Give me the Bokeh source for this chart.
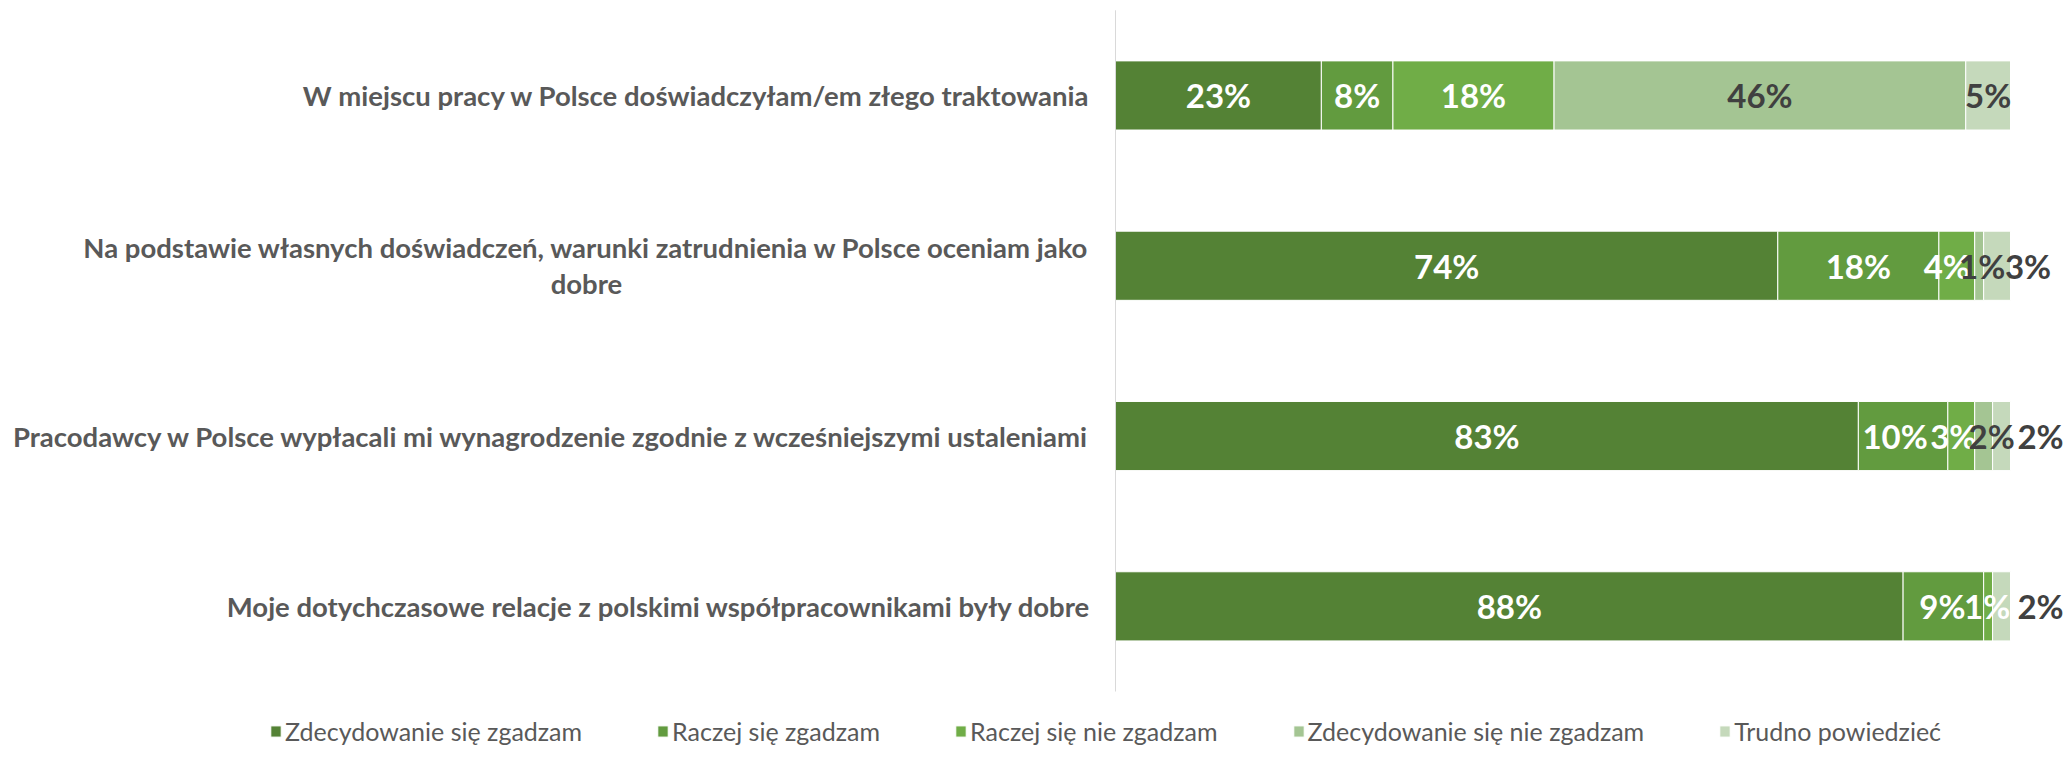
from bokeh.plotting import figure
from bokeh.models import ColumnDataSource, Range1d, Label, Legend, LegendItem
from bokeh.core.properties import value
from bokeh.embed import file_html
from bokeh.resources import INLINE

categories = [
    "W miejscu pracy w Polsce doświadczyłam/em złego traktowania",
    "Na podstawie własnych doświadczeń, warunki zatrudnienia w Polsce oceniam jako\ndobre",
    "Pracodawcy w Polsce wypłacali mi wynagrodzenie zgodnie z wcześniejszymi ustaleniami",
    "Moje dotychczasowe relacje z polskimi współpracownikami były dobre",
]
series = ["Zdecydowanie się zgadzam", "Raczej się zgadzam", "Raczej się nie zgadzam",
          "Zdecydowanie się nie zgadzam", "Trudno powiedzieć"]
zdecydowanie_zgadzam = [23, 74, 83, 88]
raczej_zgadzam = [8, 18, 10, 9]
raczej_nie_zgadzam = [18, 4, 3, 1]
zdecydowanie_nie_zgadzam = [46, 1, 2, 0]
trudno_powiedziec = [5, 3, 2, 2]
values = [zdecydowanie_zgadzam, raczej_zgadzam, raczej_nie_zgadzam,
          zdecydowanie_nie_zgadzam, trudno_powiedziec]

colors = ["#548235", "#629B3F", "#70AD47", "#A4C593", "#C5D9BB"]
label_colors = ["#FFFFFF", "#FFFFFF", "#FFFFFF", "#404040", "#404040"]
# horizontal nudges (px) of value labels, per series then per category
label_nudge = [
    [0, 0, 0, 0],
    [0, 0, -8, -1],
    [0, -10, -8, -1],
    [0, 3, 8, 0],
    [0, 31, 39, 39],
]

# ---- layout (pixels) ----
W, H = 2066, 752
bar_left_px = 1115      # where 0 % sits on the canvas
bar_px = 895            # pixels for 100 %
band_px = 170.3         # pixels per category band
band_top_px = 9.8       # top of first band

n = len(categories)
x_start = -bar_left_px / bar_px * 100
x_end = (W - bar_left_px) / bar_px * 100
y_top = n + band_top_px / band_px
y_bottom = n - (H - band_top_px) / band_px

ycent = [n - j - 0.5 for j in range(n)]

keys = ["s%d" % i for i in range(len(series))]
data = {"y": ycent}
for k, v in zip(keys, values):
    data[k] = v
source = ColumnDataSource(data)

p = figure(width=W, height=H, output_backend="svg", toolbar_location=None,
           x_range=Range1d(x_start, x_end), y_range=Range1d(y_bottom, y_top),
           min_border_left=0, min_border_right=0, min_border_top=0, min_border_bottom=0)
p.xaxis.visible = False
p.yaxis.visible = False
p.xgrid.visible = False
p.ygrid.visible = False
p.outline_line_color = None
p.background_fill_color = "white"
p.border_fill_color = "white"

renderers = p.hbar_stack(keys, y="y", height=0.406, color=colors, source=source,
                         line_color="white", line_width=1)

# vertical category axis line
p.segment(x0=[0], y0=[0], x1=[0], y1=[n], line_color="#D9D9D9", line_width=1)

# value labels
lx, ly, lt, lc, ld = [], [], [], [], []
for j in range(n):
    left = 0
    for i, vals in enumerate(values):
        v = vals[j]
        if v > 0:
            lx.append(left + v / 2)
            ly.append(ycent[j])
            lt.append("%d%%" % v)
            lc.append(label_colors[i])
            ld.append(label_nudge[i][j])
        left += v
lsrc = ColumnDataSource(dict(x=lx, y=ly, text=lt, color=lc, dx=ld))
p.text(x="x", y="y", text="text", text_color="color", x_offset="dx", source=lsrc,
       text_align="center", text_baseline="middle", text_font=value("Lato"),
       text_font_style="bold", text_font_size="33px")

# category labels
for j, cat in enumerate(categories):
    if "\n" in cat:
        lab = Label(x=0, y=ycent[j], x_offset=-529, text=cat, text_align="center",
                    text_baseline="middle", text_font="Lato", text_font_style="bold",
                    text_font_size="27.5px", text_color="#595959", text_line_height=1.1)
    else:
        lab = Label(x=0, y=ycent[j], x_offset=-25, text=cat, text_align="right",
                    text_baseline="middle", text_font="Lato", text_font_style="bold",
                    text_font_size="27.5px", text_color="#595959")
    p.add_layout(lab)

legend = Legend(items=[LegendItem(label=s, renderers=[r]) for s, r in zip(series, renderers)],
                orientation="horizontal", location=(269, 6),
                glyph_width=13, glyph_height=14, label_standoff=3, spacing=74,
                padding=0, margin=0, border_line_color=None, background_fill_alpha=0,
                label_text_font="Lato", label_text_font_size="25px",
                label_text_color="#595959")
p.add_layout(legend)

open("out.html", "w").write(file_html(p, INLINE))
